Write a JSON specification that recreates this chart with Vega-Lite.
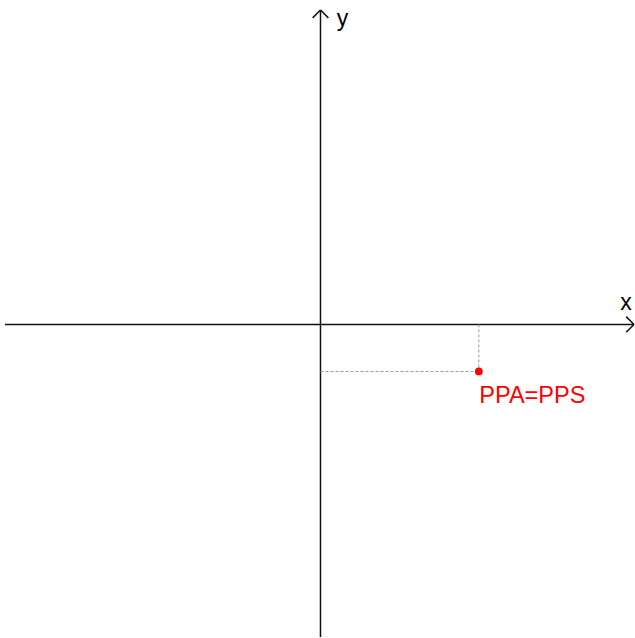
{
  "$schema": "https://vega.github.io/schema/vega-lite/v6.json",
  "width": 635,
  "height": 638,
  "autosize": {"type": "fit", "contains": "padding"},
  "padding": 0,
  "background": "white",
  "config": {"view": {"stroke": null}},
  "layer": [
    {
      "data": {"values": [
        {"part": "x-axis", "x": -2.013, "y": 0, "x2": 2.0, "y2": 0},
        {"part": "x-arrow-up", "x": 1.95, "y": 0.05, "x2": 2.0, "y2": 0},
        {"part": "x-arrow-down", "x": 1.95, "y": -0.05, "x2": 2.0, "y2": 0},
        {"part": "y-axis", "x": 0, "y": -1.994, "x2": 0, "y2": 2.006},
        {"part": "y-arrow-left", "x": -0.05, "y": 1.956, "x2": 0, "y2": 2.006},
        {"part": "y-arrow-right", "x": 0.05, "y": 1.956, "x2": 0, "y2": 2.006}
      ]},
      "mark": {"type": "rule", "color": "#111", "strokeWidth": 1.5},
      "encoding": {
        "x": {"field": "x", "type": "quantitative", "scale": {"domain": [-2.0446, 2.0], "nice": false, "zero": false}, "axis": null},
        "y": {"field": "y", "type": "quantitative", "scale": {"domain": [-1.994, 2.070], "nice": false, "zero": false}, "axis": null},
        "x2": {"field": "x2"},
        "y2": {"field": "y2"}
      }
    },
    {
      "data": {"values": [
        {"x": 1.01, "y": 0, "x2": 1.01, "y2": -0.3},
        {"x": 0, "y": -0.3, "x2": 1.01, "y2": -0.3}
      ]},
      "mark": {"type": "rule", "color": "#999", "strokeWidth": 1, "strokeDash": [3, 2]},
      "encoding": {
        "x": {"field": "x", "type": "quantitative"},
        "y": {"field": "y", "type": "quantitative"},
        "x2": {"field": "x2"},
        "y2": {"field": "y2"}
      }
    },
    {
      "data": {"values": [{"x": 1.01, "y": -0.3, "label": "PPA=PPS"}]},
      "mark": {"type": "point", "filled": true, "color": "red", "size": 60, "opacity": 1},
      "encoding": {
        "x": {"field": "x", "type": "quantitative"},
        "y": {"field": "y", "type": "quantitative"}
      }
    },
    {
      "data": {"values": [{"x": 1.013, "y": -0.459, "label": "PPA=PPS"}]},
      "mark": {"type": "text", "color": "red", "font": "Liberation Sans", "fontSize": 23.5, "align": "left", "baseline": "middle"},
      "encoding": {
        "x": {"field": "x", "type": "quantitative"},
        "y": {"field": "y", "type": "quantitative"},
        "text": {"field": "label"}
      }
    },
    {
      "data": {"values": [
        {"x": 1.949, "y": 0.14, "label": "x"},
        {"x": 0.14, "y": 1.949, "label": "y"}
      ]},
      "mark": {"type": "text", "color": "black", "font": "Liberation Sans", "fontSize": 23, "align": "center", "baseline": "middle"},
      "encoding": {
        "x": {"field": "x", "type": "quantitative"},
        "y": {"field": "y", "type": "quantitative"},
        "text": {"field": "label"}
      }
    }
  ]
}
